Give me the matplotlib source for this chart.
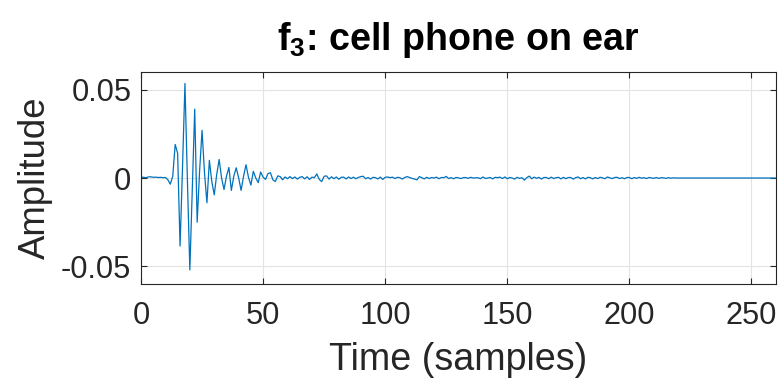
import matplotlib
matplotlib.use('Agg')
import matplotlib.pyplot as plt
from matplotlib import font_manager

# impulse response samples (sample index 0..260)
amplitude = [
    0.0006, 0.0004, 0.0002, 0.0006, 0.0007, 0.0004, 0.0005, 0.0003, 0.0004, 0.0002,
    0.0003, -0.0010, -0.0035, 0.0010, 0.0190, 0.0140, -0.0385, 0.0060, 0.0535, -0.0010,
    -0.0520, -0.0060, 0.0390, -0.0250, 0.0040, 0.0270, 0.0030, -0.0140, 0.0100, -0.0020,
    -0.0095, 0.0020, 0.0105, 0.0000, -0.0065, 0.0010, 0.0060, -0.0070, 0.0010, 0.0058,
    0.0000, -0.0070, 0.0010, 0.0075, 0.0005, -0.0040, 0.0038, 0.0000, -0.0026, 0.0034,
    0.0005, -0.0008, 0.0025, 0.0030, -0.0010, -0.0020, 0.0012, 0.0008, -0.0010, 0.0006,
    -0.0004, 0.0008, -0.0003, 0.0006, -0.0006, 0.0004, 0.0008, -0.0005, 0.0007, -0.0008,
    0.0005, 0.0002, 0.0023, -0.0008, -0.0020, 0.0010, 0.0012, -0.0006, 0.0007, -0.0004,
    0.0006, -0.0007, 0.0004, 0.0005, -0.0005, 0.0006, -0.0003, 0.0005, -0.0004, 0.0003,
    0.0008, 0.0010, -0.0004, 0.0003, -0.0006, 0.0004, 0.0002, -0.0005, 0.0005, -0.0008,
    0.0004, 0.0006, 0.0002, 0.0005, -0.0003, 0.0004, 0.0002, -0.0006, 0.0003, 0.0008,
    0.0003, -0.0002, -0.0006, -0.0010, 0.0008, 0.0002, -0.0005, 0.0004, -0.0003, 0.0003,
    0.0000, 0.0005, -0.0004, 0.0003, 0.0002, 0.0009, -0.0003, 0.0002, -0.0004, 0.0003,
    0.0001, -0.0003, 0.0002, 0.0003, -0.0002, 0.0004, 0.0000, 0.0001, 0.0002, -0.0004,
    0.0006, -0.0002, 0.0000, 0.0003, -0.0005, 0.0004, 0.0002, 0.0005, -0.0003, 0.0006,
    -0.0004, 0.0003, 0.0000, -0.0006, 0.0004, -0.0002, 0.0002, -0.0012, 0.0002, 0.0011,
    -0.0004, 0.0005, -0.0002, 0.0004, -0.0006, 0.0003, 0.0003, -0.0004, 0.0005, -0.0003,
    0.0002, 0.0004, -0.0005, 0.0004, -0.0004, 0.0003, 0.0003, -0.0006, 0.0002, 0.0006,
    -0.0004, 0.0003, -0.0005, 0.0004, 0.0002, -0.0005, 0.0003, -0.0003, 0.0004, 0.0001,
    -0.0004, 0.0006, 0.0001, -0.0003, 0.0003, 0.0004, -0.0003, 0.0002, -0.0004, 0.0003,
    0.0003, -0.0004, 0.0003, -0.0002, 0.0004, -0.0001, 0.0002, -0.0003, 0.0003, 0.0001,
    -0.0002, 0.0003, -0.0002, 0.0002, 0.0001, -0.0002, 0.0002, -0.0001, 0.0001, 0.0000,
    0.0, 0.0, 0.0, 0.0, 0.0, 0.0, 0.0, 0.0, 0.0, 0.0,
    0.0, 0.0, 0.0, 0.0, 0.0, 0.0, 0.0, 0.0, 0.0, 0.0,
    0.0, 0.0, 0.0, 0.0, 0.0, 0.0, 0.0, 0.0, 0.0, 0.0,
    0.0, 0.0, 0.0, 0.0, 0.0, 0.0, 0.0, 0.0, 0.0, 0.0,
    0.0,
]
samples = list(range(len(amplitude)))

x_ticks = [0, 50, 100, 150, 200, 250]
y_ticks = [-0.05, 0, 0.05]
y_tick_labels = ['-0.05', '0', '0.05']

# MATLAB-ish narrow Helvetica look if we have it
names = {f.name for f in font_manager.fontManager.ttflist}
if 'Liberation Sans Narrow' in names:
    family = 'Liberation Sans Narrow'
    scale = 1.0
else:
    family = 'Liberation Sans'
    scale = 0.82

plt.rcParams['font.family'] = [family, 'DejaVu Sans']
plt.rcParams['mathtext.default'] = 'regular'

fig = plt.figure(figsize=(7.79, 3.87), dpi=100)
ax = fig.add_axes([0.181, 0.266, 0.815, 0.548])

ax.plot(samples, amplitude, color='#0072BD', linewidth=0.9)

ax.set_xlim(0, 260)
ax.set_ylim(-0.06, 0.06)
ax.set_xticks(x_ticks)
ax.set_yticks(y_ticks)
ax.set_yticklabels(y_tick_labels)

ax.grid(True, color='#e3e3e3', linewidth=0.8)
ax.set_axisbelow(True)
for s in ax.spines.values():
    s.set_color('#262626')
    s.set_linewidth(0.8)
ax.tick_params(direction='in', length=4, width=0.8, colors='#262626',
               labelsize=27 * scale, top=True, right=True)
ax.tick_params(axis='x', pad=12)
ax.tick_params(axis='y', pad=7)

ax.set_xlabel('Time (samples)', fontsize=33 * scale, color='#262626', labelpad=8)
ax.set_ylabel('Amplitude', fontsize=32 * scale, color='#262626', labelpad=6)
ax.set_title('f$_3$: cell phone on ear', fontsize=33 * scale, fontweight='bold',
             color='black', pad=16)

fig.savefig('out.png', dpi=100)
